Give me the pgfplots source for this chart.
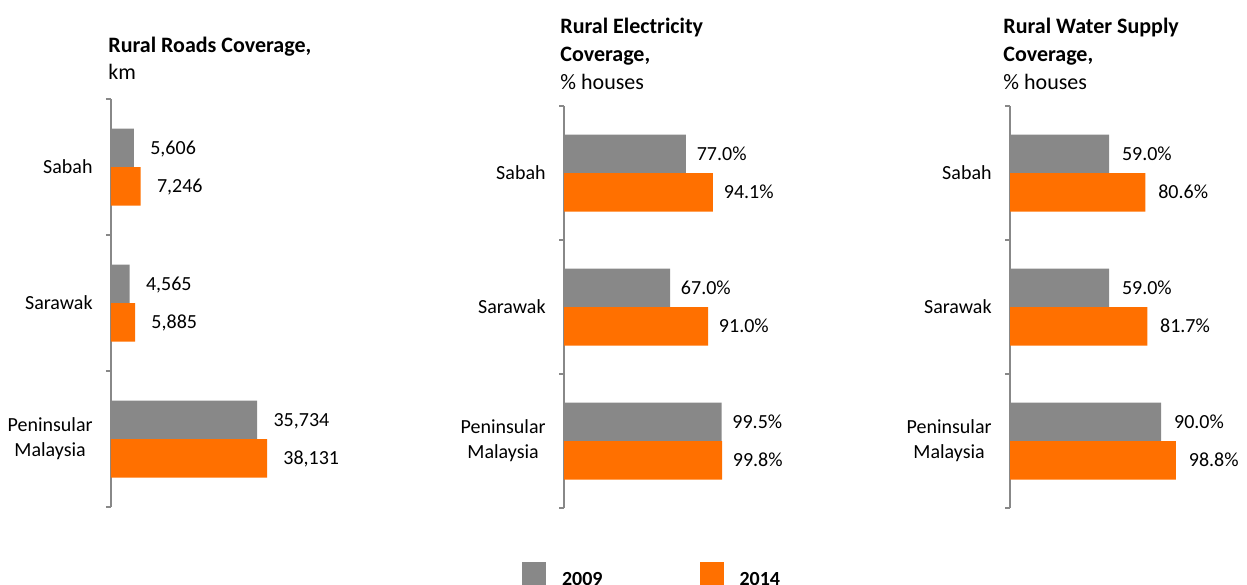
\documentclass[border=0pt]{standalone}
\usepackage{pgfplots}
\pgfplotsset{compat=1.18}
\usepackage{fontspec}
\setmainfont{Carlito}
\definecolor{cgray}{RGB}{136,136,136}
\definecolor{corange}{RGB}{255,112,0}
\newcommand\f{\fontsize{11bp}{12.5bp}\selectfont}
\newcommand\fs{\fontsize{10bp}{12.5bp}\selectfont}

\pgfplotsset{
 panel/.style={
  scale only axis, anchor=south west, xmin=0, ymin=-0.5, ymax=2.5,
  axis x line=none, axis y line=left,
  axis line style={-, draw=cgray, line width=0.6bp},
  ytick={0,1,2}, yticklabels={{Peninsular\\Malaysia},Sarawak,Sabah},
  major tick length=0pt, major tick style={draw=none},
  minor ytick={-0.5,0.5,1.5,2.5}, minor tick length=2.5bp, tick align=outside,
  minor tick style={draw=cgray, line width=0.6bp},
  yticklabel style={font=\fs, align=center, anchor=east, inner sep=0pt, xshift=-9bp},
  xbar, bar width=19.25bp,
  nodes near coords, point meta=explicit symbolic,
  every node near coord/.append style={font=\fs, anchor=west, inner sep=0pt, text height=0.64em, text depth=0pt, black},
  clip=false,
  legend image code/.code={\fill[##1] (0bp,0bp) rectangle (12bp,12bp);},
 },
}

\begin{document}
\begin{tikzpicture}
\path[use as bounding box] (0,0) rectangle (623.5bp,-292.5bp);
\clip (0,0) rectangle (623.5bp,-292.5bp);

% Panel 1: roads
\begin{axis}[panel, at={(55.5bp,-253.5bp)}, width=122.75bp, height=204bp, xmax=60000,
  every node near coord/.append style={xshift=8bp}]
\addplot[fill=cgray, draw=none, bar shift=9.625bp] coordinates {(5606,2) [5,606] (4565,1) [4,565] (35734,0) [35,734]};
\addplot[fill=corange, draw=none, bar shift=-9.625bp] coordinates {(7246,2) [7,246] (5885,1) [5,885] (38131,0) [38,131]};
\end{axis}

% Panel 2: electricity
\begin{axis}[panel, at={(282bp,-254bp)}, width=118.75bp, height=201bp, xmax=150,
  every node near coord/.append style={xshift=5.25bp},
  legend style={at={(axis description cs:-0.1768,-0.1343)}, anchor=north west, draw=none, fill=none,
    inner sep=0pt, outer sep=0pt, font=\bfseries\fs, column sep=8bp,
    /tikz/every even column/.append style={column sep=48.5bp}, nodes={inner sep=0pt, anchor=base west}},
  legend columns=2, legend cell align=left]
\addplot[fill=cgray, draw=none, bar shift=9.625bp] coordinates {(77.0,2) [77.0\%] (67.0,1) [67.0\%] (99.5,0) [99.5\%]};
\addplot[fill=corange, draw=none, bar shift=-9.625bp] coordinates {(94.1,2) [94.1\%] (91.0,1) [91.0\%] (99.8,0) [99.8\%]};
\legend{2009,2014}
\end{axis}

% Panel 3: water
\begin{axis}[panel, at={(505bp,-254bp)}, width=126bp, height=201bp, xmax=150,
  every node near coord/.append style={xshift=6.25bp}]
\addplot[fill=cgray, draw=none, bar shift=9.625bp] coordinates {(59.0,2) [59.0\%] (59.0,1) [59.0\%] (90.0,0) [90.0\%]};
\addplot[fill=corange, draw=none, bar shift=-9.625bp] coordinates {(80.6,2) [80.6\%] (81.7,1) [81.7\%] (98.8,0) [98.8\%]};
\end{axis}

% Titles
\begin{scope}[every node/.style={anchor=base west, inner sep=0pt, font=\f}]
\node[font=\bfseries\f] at (54bp,-26bp) {Rural Roads Coverage,};
\node at (54bp,-39.5bp) {km};
\node[font=\bfseries\f] at (280bp,-16.5bp) {Rural Electricity};
\node[font=\bfseries\f] at (280bp,-30.5bp) {Coverage,};
\node at (280bp,-44.5bp) {\% houses};
\node[font=\bfseries\f] at (501.5bp,-16.5bp) {Rural Water Supply};
\node[font=\bfseries\f] at (501.5bp,-30.5bp) {Coverage,};
\node at (501.5bp,-44.5bp) {\% houses};
\end{scope}
\end{tikzpicture}
\end{document}
